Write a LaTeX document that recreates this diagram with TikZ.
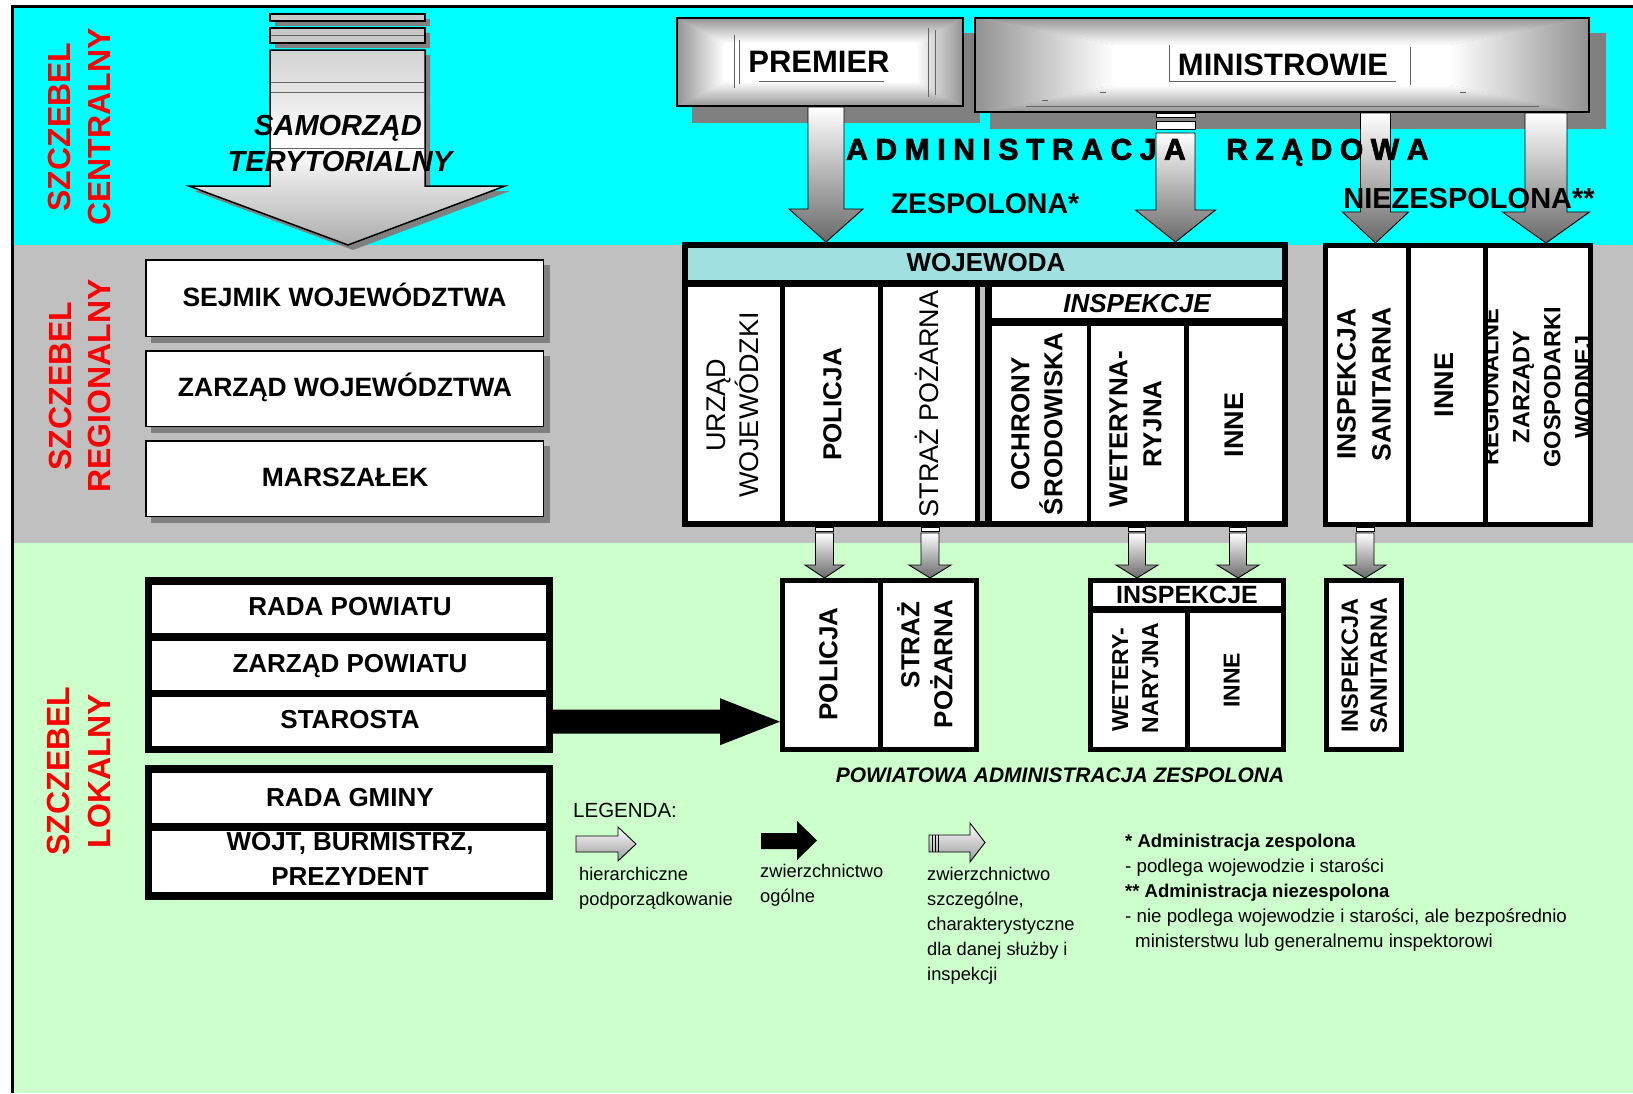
\documentclass[tikz,border=0pt]{standalone}
\usepackage{fontspec}
\setmainfont{Liberation Sans}
\usetikzlibrary{calc}
\definecolor{cyanbg}{RGB}{0,255,255}
\definecolor{graybg}{RGB}{192,192,192}
\definecolor{greenbg}{RGB}{204,255,204}
\definecolor{tealhd}{RGB}{160,224,224}
\definecolor{shadowc}{RGB}{128,128,128}
\definecolor{redlbl}{RGB}{255,0,0}
\definecolor{pilledge}{RGB}{145,145,145}
\definecolor{arrowdark}{RGB}{105,105,105}
\definecolor{decoline}{RGB}{100,100,100}
\definecolor{barfill}{RGB}{200,200,200}
\newcommand\trk{\kern7.6pt}
\newcommand\pillow[6]{%
  \fill[pilledge!60!white] (#1,#2) rectangle (#3,#4);
  \fill[white] ({#1+#5},{#2+#6}) rectangle ({#3-#5},{#4-#6});
  \shade[top color=pilledge,bottom color=white] (#1,#2) -- (#3,#2) -- ({#3-#5},{#2+#6}) -- ({#1+#5},{#2+#6}) -- cycle;
  \shade[top color=white,bottom color=pilledge] (#1,#4) -- (#3,#4) -- ({#3-#5},{#4-#6}) -- ({#1+#5},{#4-#6}) -- cycle;
  \shade[left color=pilledge,right color=white] (#1,#2) -- ({#1+#5},{#2+#6}) -- ({#1+#5},{#4-#6}) -- (#1,#4) -- cycle;
  \shade[left color=white,right color=pilledge] (#3,#2) -- ({#3-#5},{#2+#6}) -- ({#3-#5},{#4-#6}) -- (#3,#4) -- cycle;
}
% gray hierarchy arrow: [opts]{start}{target}{shaft hw}{head hw}{head length}
\newcommand\garrow[6][]{%
  \path[harr,#1] let \p1=(#2), \p2=(#3) in
    (\x1-#4pt,\y1) -- (\x1+#4pt,\y1) -- (\x1+#4pt,\y2+#6pt) -- (\x1+#5pt,\y2+#6pt)
    -- (\x1,\y2) -- (\x1-#5pt,\y2+#6pt) -- (\x1-#4pt,\y2+#6pt) -- cycle;}
\tikzset{
  fb/.style={font=\fontsize{#1}{#1}\selectfont\bfseries, inner sep=0pt, text height=0.716*#1pt, text depth=0pt},
  fbi/.style={font=\fontsize{#1}{#1}\selectfont\bfseries\itshape, inner sep=0pt, text height=0.716*#1pt, text depth=0pt},
  fr/.style={font=\fontsize{#1}{#1}\selectfont, inner sep=0pt, text height=0.716*#1pt, text depth=0pt},
  heavy/.style={font=\fontsize{#1}{#1}\selectfont\bfseries\addfontfeature{FakeBold=2.5}, inner sep=0pt, text height=0.716*#1pt, text depth=0pt},
  redlab/.style={fb=32, text=redlbl, rotate=90},
  blk/.style={draw, inner sep=0pt, anchor=north west},
  harr/.style={draw=black, line width=0.9pt, top color=white, bottom color=arrowdark},
  bar/.style={draw=black, line width=0.8pt, fill=white},
  lg/.style={font=\fontsize{18.3}{22}\selectfont, inner sep=0pt, anchor=base west},
  fn/.style={font=\fontsize{18.7}{22}\selectfont, inner sep=0pt, anchor=base west},
  fnb/.style={font=\fontsize{18.5}{22}\selectfont\bfseries, inner sep=0pt, anchor=base west},
  deco/.style={draw=decoline, line width=0.7pt},
}
\begin{document}
\begin{tikzpicture}[x=1pt,y=-1pt]
\useasboundingbox (0,0) rectangle (1633,1093);
% ---------- backgrounds ----------
\fill[white] (0,0) rectangle (1633,1093);
\fill[cyanbg] (12,6) rectangle (1633,245);
\fill[graybg] (12,245) rectangle (1633,543);
\fill[greenbg] (12,543) rectangle (1633,1093);
\draw[line width=3pt] (12,1093) -- (12,6) -- (1633,6);

% ---------- level labels ----------
\node[redlab] (c1) at (59,127) {SZCZEBEL};
\node[redlab] (c2) at (99,127) {CENTRALNY};
\node[redlab] (r1) at (60,386) {SZCZEBEL};
\node[redlab] (r2) at (99.5,386) {REGIONALNY};
\node[redlab] (l1) at (58.5,771) {SZCZEBEL};
\node[redlab] (l2) at (99.5,771) {LOKALNY};

% ---------- SAMORZAD TERYTORIALNY arrow ----------
\begin{scope}[shift={(5,5)}]
  \fill[shadowc] (270,14) rectangle (425,21);
  \fill[shadowc] (270,28) rectangle (425,43);
  \fill[shadowc] (270,50) -- (425,50) -- (425,186) -- (505,186) -- (348,245) -- (189,186) -- (270,186) -- cycle;
\end{scope}
\draw[line width=1.2pt, fill=barfill] (270,14) rectangle (425,21);
\draw[line width=1.2pt, fill=barfill] (270,28) rectangle (425,43);
\draw[decoline, line width=0.6pt] (271,35.5) -- (424,35.5);
\draw[line width=1.5pt, top color=gray!35, bottom color=gray!65, middle color=white]
  (270,50) -- (425,50) -- (425,186) -- (505,186) -- (348,245) -- (189,186) -- (270,186) -- cycle;
\draw[decoline, line width=0.6pt] (271,82) -- (424,82) (271,92) -- (424,92) (271,148) -- (424,148);
\node[fbi=29] (samo1) at (338,125) {SAMORZĄD};
\node[fbi=29] (samo2) at (340,161) {TERYTORIALNY};

% ---------- PREMIER / MINISTROWIE ----------
\fill[shadowc] (692,33) rectangle (980,123);
\pillow{676}{17}{964}{107}{48}{26}
\draw[deco] (734,35) -- (734,88) (739,40) -- (739,84) (928,28) -- (928,97) (935,30) -- (935,95) (759,81) -- (884,81);
\node[blk, line width=1.6pt, minimum width=286.4pt, minimum height=88.4pt] (premier) at (676,17) {};
\node[fb=31] (premiertxt) at (819,61.5) {PREMIER};

\fill[shadowc] (990,33) rectangle (1606,129);
\pillow{974}{17}{1590}{113}{140}{28}
\draw[deco] (1169,81) -- (1396,81) (1410,47) -- (1410,85) (1169,45) -- (1169,82) (1026,106) -- (1539,106)
  (1100,92) -- (1106,92) (1460,92) -- (1466,92) (1042,100) -- (1048,100);
\node[blk, line width=1.6pt, minimum width=614.4pt, minimum height=94.4pt] (ministr) at (974,17) {};
\node[fb=31] (ministrtxt) at (1283,64) {MINISTROWIE};

% ---------- WOJEWODA block ----------
\fill[white] (682,242) rectangle (1288,527);
\fill[tealhd] (685,245) rectangle (1285,283);
\fill[black] (682,280) rectangle (1288,287);
\fill[black] (780,283) rectangle (785,527);
\fill[black] (878,283) rectangle (883,527);
\fill[black] (975,283) rectangle (992,527);
\fill[graybg] (980,287) rectangle (985,522);
\fill[black] (985,318) rectangle (1288,326);
\fill[black] (1087,322) rectangle (1091,527);
\fill[black] (1184,322) rectangle (1189,527);
\node[blk, line width=6pt, minimum width=600pt, minimum height=279pt] (woj) at (682,242) {};
\node[fb=26] (wojtxt) at (986,262.5) {WOJEWODA};
\node[fbi=26] (inspw) at (1137,303) {INSPEKCJE};
\node[fr=27, rotate=90] (urz1) at (716,405) {URZĄD};
\node[fr=27, rotate=90] (urz2) at (749,405) {WOJEWÓDZKI};
\node[fb=26, rotate=90] (polw) at (832,404.5) {POLICJA};
\node[fr=27, rotate=90] (strw) at (929,404) {STRAŻ POŻARNA};
\node[fb=26, rotate=90] (och1) at (1020,424) {OCHRONY};
\node[fb=26, rotate=90] (och2) at (1053,424) {ŚRODOWISKA};
\node[fb=26, rotate=90] (wet1) at (1118,429) {WETERYNA-};
\node[fb=26, rotate=90] (wet2) at (1152,424) {RYJNA};
\node[fb=27, rotate=90] (innew) at (1234,425) {INNE};

% ---------- niezespolona block ----------
\fill[white] (1323,243) rectangle (1593,527);
\node[fb=26.5, rotate=90] (san1) at (1346,384) {INSPEKCJA};
\node[fb=26.5, rotate=90] (san2) at (1381,384) {SANITARNA};
\node[fb=27, rotate=90] (inner) at (1444,385) {INNE};
\begin{scope}
  \clip (1488,248) rectangle (1588,522);
  \node[fb=23.5, rotate=90] (rz1) at (1490,387) {REGIONALNE};
  \node[fb=23.5, rotate=90] (rz2) at (1521,387) {ZARZĄDY};
  \node[fb=23.5, rotate=90] (rz3) at (1552,387) {GOSPODARKI};
  \node[fb=23.5, rotate=90] (rz4) at (1583,387) {WODNEJ};
\end{scope}
\fill[black] (1406,243) rectangle (1411,527);
\fill[black] (1483,243) rectangle (1488,527);
\node[blk, line width=5pt, minimum width=265pt, minimum height=279pt] (niez) at (1323,243) {};

% ---------- top hierarchy arrows ----------
\garrow{premier.south-|826,0}{woj.north}{18}{37}{33}
\draw[bar] (1156,113) rectangle (1195,117);
\draw[bar] (1156,121) rectangle (1195,129);
\coordinate (a2s) at (1175.5,133);
\garrow{a2s}{woj.north}{19.5}{40}{32}
\garrow{ministr.south-|1375.5,0}{niez.north}{15}{33}{31}
\garrow{ministr.south-|1546,0}{niez.north}{21}{43.5}{31}

% ---------- titles in central band ----------
\node[heavy=30, anchor=west] (adm1) at (846,149) {A\trk D\trk M\trk I\trk N\trk I\trk S\trk T\trk R\trk A\trk C\trk J\trk A};
\node[heavy=30, anchor=west] (adm2) at (1226,149) {R\trk Z\trk Ą\trk D\trk O\trk W\trk A};
\node[fb=28.5] (zesp) at (985,203.5) {ZESPOLONA*};
\node[fb=29] (niezesp) at (1469,198) {NIEZESPOLONA**};

% ---------- regional self-government boxes ----------
\fill[shadowc] (151,265) rectangle (550,343);
\fill[shadowc] (151,356) rectangle (550,433);
\fill[shadowc] (151,446) rectangle (550,523);
\node[blk, fill=white, line width=1.5pt, minimum width=397.5pt, minimum height=76.5pt] (sejmik) at (145,259) {};
\node[blk, fill=white, line width=1.5pt, minimum width=397.5pt, minimum height=75.5pt] (zarzadw) at (145,350) {};
\node[blk, fill=white, line width=1.5pt, minimum width=397.5pt, minimum height=75.5pt] (marsz) at (145,440) {};
\node[fb=26.5] (sejmiktxt) at (344.5,297) {SEJMIK WOJEWÓDZTWA};
\node[fb=26.5] (zarzadwtxt) at (345,387) {ZARZĄD WOJEWÓDZTWA};
\node[fb=26.5] (marsztxt) at (345,477) {MARSZAŁEK};

% ---------- local (powiat) government blocks ----------
\fill[white] (780,578) rectangle (979,752);
\fill[black] (878,578) rectangle (883,752);
\node[blk, line width=5pt, minimum width=194pt, minimum height=169pt] (plocal) at (780,578) {};
\node[fb=26, rotate=90] (poll) at (828,664) {POLICJA};
\node[fb=26, rotate=90] (strl1) at (910,645) {STRAŻ};
\node[fb=26, rotate=90] (strl2) at (943,664) {POŻARNA};

\fill[white] (1088,578) rectangle (1286,752);
\fill[black] (1088,606) rectangle (1286,613);
\fill[black] (1185,610) rectangle (1190,752);
\node[blk, line width=5pt, minimum width=193pt, minimum height=169pt] (ilocal) at (1088,578) {};
\node[fb=25] (inspl) at (1187,595) {INSPEKCJE};
\node[fb=23, rotate=90] (wetl1) at (1120,680) {WETERY-};
\node[fb=23, rotate=90] (wetl2) at (1150,678) {NARYJNA};
\node[fb=23, rotate=90] (innel) at (1231.5,680.5) {INNE};

\fill[white] (1324,578) rectangle (1404,752);
\node[blk, line width=5pt, minimum width=75pt, minimum height=169pt] (slocal) at (1324,578) {};
\node[fb=23.5, rotate=90] (sanl1) at (1349.5,665.5) {INSPEKCJA};
\node[fb=23.5, rotate=90] (sanl2) at (1378.5,665.5) {SANITARNA};

\node[fbi=21] (powiatowa) at (1060,775) {POWIATOWA ADMINISTRACJA ZESPOLONA};

% ---------- small hierarchy arrows regional -> local ----------
\draw[bar] (815.5,527) rectangle (833.5,531);
\coordinate (s1) at (824.5,533);
\garrow{s1}{plocal.north}{9}{19.5}{13}
\draw[bar] (921,527) rectangle (939,531);
\coordinate (s2) at (930,533);
\garrow{s2}{plocal.north}{9}{21}{13}
\draw[bar] (1128.5,527) rectangle (1145.5,531);
\coordinate (s3) at (1137,533);
\garrow{s3}{ilocal.north}{8.5}{21}{13}
\draw[bar] (1229.5,527) rectangle (1246.5,531);
\coordinate (s4) at (1238,533);
\garrow{s4}{ilocal.north}{8.5}{21}{13}
\draw[bar] (1356,527) rectangle (1374,531);
\coordinate (s5) at (1365,533);
\garrow{s5}{slocal.north}{9}{21}{13}

% ---------- powiat / gmina self-government ----------
\fill[black] (145,577) rectangle (553,753);
\node[blk, draw=none, fill=white, minimum width=394pt, minimum height=48pt] (radap) at (152,585) {};
\node[blk, draw=none, fill=white, minimum width=394pt, minimum height=49pt] (zarzadp) at (152,641) {};
\node[blk, draw=none, fill=white, minimum width=394pt, minimum height=49pt] (starosta) at (152,697) {};
\node[fb=26] (radaptxt) at (350,606) {RADA POWIATU};
\node[fb=26] (zarzadptxt) at (350,663) {ZARZĄD POWIATU};
\node[fb=26] (starostatxt) at (350,719) {STAROSTA};

\fill[black] (145,765) rectangle (553,900);
\node[blk, draw=none, fill=white, minimum width=394pt, minimum height=50pt] (radag) at (152,773) {};
\node[blk, draw=none, fill=white, minimum width=394pt, minimum height=61pt] (wojt) at (152,831) {};
\node[fb=26] (radagtxt) at (350,797) {RADA GMINY};
\node[fb=26] (wojttxt) at (350,841) {WÓJT, BURMISTRZ,};
\node[fb=26] (prezydenttxt) at (350,876) {PREZYDENT};
\fill[black] (145,823) rectangle (553,831);

% ---------- general supervision arrow ----------
\path[fill=black] let \p1=(starosta.east), \p2=(plocal.west) in
  (\x1,\y1+12pt) -- (\x2-60pt,\y1+12pt) -- (\x2-60pt,\y1+23.5pt) -- (\x2,\y1)
  -- (\x2-60pt,\y1-23.5pt) -- (\x2-60pt,\y1-12pt) -- (\x1,\y1-12pt) -- cycle;

% ---------- legend ----------
\node[fr=20.5, anchor=west] (legenda) at (573,810) {LEGENDA:};
\draw[line width=0.9pt, top color=white, bottom color=gray!80] (576,836) -- (618,836) -- (618,827) -- (636,844) -- (618,861) -- (618,852) -- (576,852) -- cycle;
\fill[black] (761,833) -- (797,833) -- (797,821) -- (817,840.5) -- (797,860) -- (797,849) -- (761,849) -- cycle;
\draw[line width=0.9pt, top color=white, bottom color=gray!80] (929,835) -- (970,835) -- (970,823) -- (985,842.5) -- (970,862) -- (970,852) -- (929,852) -- cycle;
\draw[line width=0.9pt] (932,835) -- (932,852) (935,835) -- (935,852) (938,835) -- (938,852);

\node[lg] (lg1a) at (579,880) {hierarchiczne};
\node[lg] (lg1b) at (579,905) {podporządkowanie};
\node[lg] (lg2a) at (760,877) {zwierzchnictwo};
\node[lg] (lg2b) at (760,902) {ogólne};
\node[lg] (lg3a) at (927,880) {zwierzchnictwo};
\node[lg] (lg3b) at (927,905) {szczególne,};
\node[lg] (lg3c) at (927,930) {charakterystyczne};
\node[lg] (lg3d) at (927,955) {dla danej służby i};
\node[lg] (lg3e) at (927,980) {inspekcji};

\node[fnb] (fn1) at (1125,847) {* Administracja zespolona};
\node[fn] (fn2) at (1125,872) {- podlega wojewodzie i starości};
\node[fnb] (fn3) at (1125,897) {** Administracja niezespolona};
\node[fn] (fn4) at (1125,922) {- nie podlega wojewodzie i starości, ale bezpośrednio};
\node[fn] (fn5) at (1135,947) {ministerstwu lub generalnemu inspektorowi};
\end{tikzpicture}
\end{document}
